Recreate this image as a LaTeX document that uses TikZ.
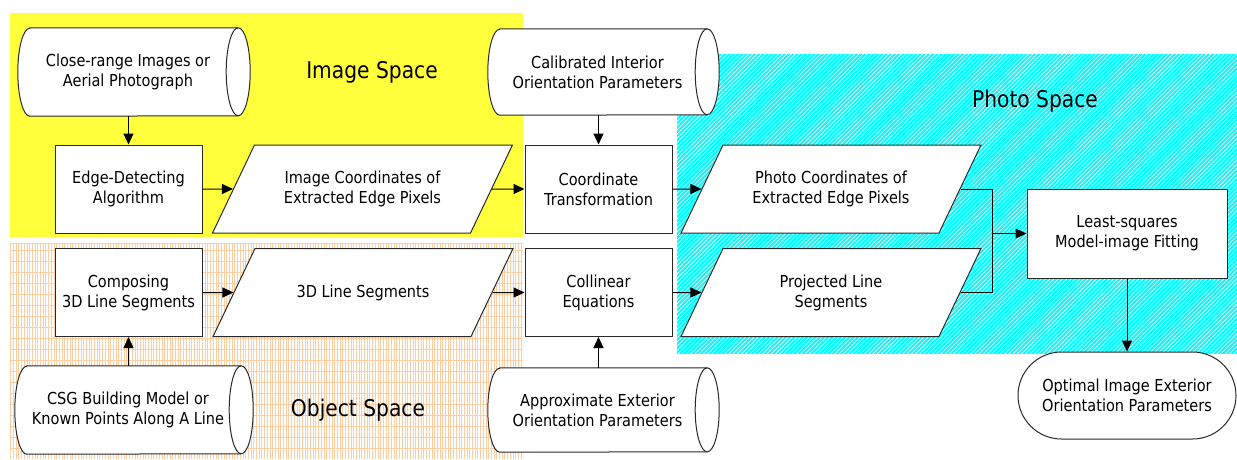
\documentclass[tikz,border=0pt]{standalone}
\usepackage{fontspec}
\setmainfont{DejaVu Sans}[FakeStretch=0.88]
\usetikzlibrary{shapes.geometric,arrows.meta,patterns.meta,calc}
\definecolor{orangeline}{RGB}{255,205,160}
\definecolor{edgegray}{RGB}{40,40,40}
\definecolor{imgyellow}{RGB}{255,255,0}
\definecolor{photocyan}{RGB}{0,255,255}
% outline of a horizontal drum (stored data) around a named text node
\newcommand\drumoutline[2]{%
  \draw[shapeline]
    ($(#1.north west)+(12,0)$) -- (#1.north east)
    arc[start angle=-90, end angle=90, x radius=12, y radius=#2]
    -- ($(#1.south west)+(12,0)$)
    arc[start angle=90, end angle=270, x radius=12, y radius=#2] -- cycle;
  \draw[shapeline, fill=none] (#1.north east)
    arc[start angle=270, end angle=90, x radius=12, y radius=#2];
}
\begin{document}
\begin{tikzpicture}[x=1pt,y=-1pt,
  every node/.style={font=\fontsize{16.5}{20}\selectfont, inner sep=0pt, text=black},
  shapeline/.style={draw=edgegray, fill=white, line width=1pt},
  procbox/.style={shapeline, rectangle, align=center, minimum width=147, minimum height=88},
  databox/.style={shapeline, trapezium, trapezium left angle=64.5, trapezium right angle=115.5,
    inner xsep=0pt, inner ysep=24pt,
    execute at begin node={\begin{minipage}[c][40pt][c]{216pt}\centering},
    execute at end node={\end{minipage}}},
  drumtext/.style={rectangle, align=center, minimum width=220},
  termbox/.style={shapeline, rectangle, align=center, rounded corners=43.5pt, minimum width=218, minimum height=87},
  spacelabel/.style={font=\fontsize{23}{28}\selectfont},
  arr/.style={draw=black, line width=1pt, -{Triangle[length=11pt,width=10pt]}},
  wire/.style={draw=black, line width=1pt}
]
\useasboundingbox (0,0) rectangle (1237,459);

% shaded regions
\path[preaction={fill=imgyellow}, pattern={Dots[distance=2pt,radius=0.72pt]}, pattern color=white]
  (10,13) rectangle (523,237);
\path[pattern={Lines[angle=90,distance=2.7pt,line width=0.9pt]}, pattern color=orangeline]
  (10,243) rectangle (523,458);
\path[pattern={Lines[angle=0,distance=11pt,line width=0.7pt]}, pattern color=orangeline]
  (10,243) rectangle (523,458);
\draw[orangeline, line width=1pt] (10,243.5) -- (523,243.5);
\path[preaction={fill=photocyan}, pattern={Lines[angle=45,distance=3pt,line width=0.6pt]}, pattern color=white]
  (677,54) rectangle (1237,354);

% region labels
\node[spacelabel] (lblimage) at (372,72) {Image Space};
\node[spacelabel] (lblobject) at (358,410) {Object Space};
\node[spacelabel] (lblphoto) at (1035,101) {Photo Space};

% stored data drums
\node[drumtext, minimum height=88] (photos) at (128,72) {};
\drumoutline{photos}{44}
\node[drumtext, minimum height=88] at (photos) {Close-range Images or\\Aerial Photograph};
\node[drumtext, minimum height=86, minimum width=219] (interior) at (597.5,72) {};
\drumoutline{interior}{43}
\node[drumtext] at (interior) {Calibrated Interior\\Orientation Parameters};
\node[drumtext, minimum height=88, minimum width=226] (csg) at (128,410) {};
\drumoutline{csg}{44}
\node[drumtext] at (csg) {CSG Building Model or\\Known Points Along A Line};
\node[drumtext, minimum height=84, minimum width=219] (exterior) at (597.5,410) {};
\drumoutline{exterior}{42}
\node[drumtext] at (exterior) {Approximate Exterior\\Orientation Parameters};

% upper row
\node[procbox] (edgedet) at (128.5,189) {Edge-Detecting\\Algorithm};
\node[databox] (imgcoord) at (362.5,189) {Image Coordinates of\\Extracted Edge Pixels};
\node[procbox] (coordtf) at (598.5,189) {Coordinate\\Transformation};
\node[databox] (photocoord) at (831,189) {Photo Coordinates of\\Extracted Edge Pixels};

% lower row
\node[procbox] (compose) at (128.5,292.5) {Composing\\3D Line Segments};
\node[databox] (lines3d) at (363,292.5) {3D Line Segments};
\node[procbox] (collinear) at (598.5,292.5) {Collinear\\Equations};
\node[databox] (projected) at (831,292.5) {Projected Line\\Segments};

% fitting and result
\node[procbox, minimum width=200, minimum height=89] (fitting) at (1127,233.5) {Least-squares\\Model-image Fitting};
\node[termbox] (result) at (1127,395.5) {Optimal Image Exterior\\Orientation Parameters};

% connectors
\draw[arr] (photos.south -| edgedet.north) -- (edgedet.north);
\draw[arr] (interior.south -| coordtf.north) -- (coordtf.north);
\draw[arr] (edgedet) -- (imgcoord);
\draw[arr] (imgcoord) -- (coordtf);
\draw[arr] (coordtf) -- (photocoord);
\draw[arr] (csg.north -| compose.south) -- (compose.south);
\draw[arr] (exterior.north -| collinear.south) -- (collinear.south);
\draw[arr] (compose) -- (lines3d);
\draw[arr] (lines3d) -- (collinear);
\draw[arr] (collinear) -- (projected);
\coordinate (merge) at (992,233.5);
\draw[wire] (photocoord) -| (merge);
\draw[wire] (projected) -| (merge);
\draw[arr] (merge) -- (fitting);
\draw[arr] (fitting) -- (result);
\end{tikzpicture}
\end{document}
